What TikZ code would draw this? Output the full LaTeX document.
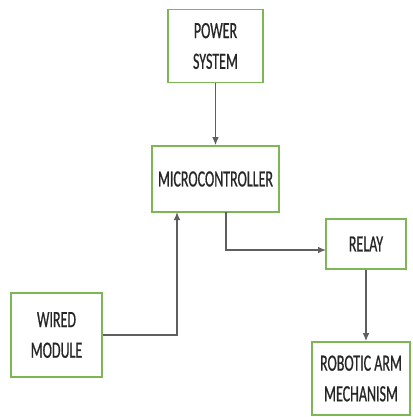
\documentclass[tikz,border=0pt]{standalone}
\usepackage{fontspec}
\setmainfont{Carlito}[FakeStretch=0.6,FakeBold=0.6]
\usetikzlibrary{arrows.meta}
\definecolor{boxgreen}{RGB}{125,182,85}
\definecolor{lineGray}{RGB}{95,95,95}
\tikzset{every picture/.style={line width=0.75pt}}
\tikzset{
  blockbox/.style={draw=boxgreen, line width=1.3pt, fill=white, align=center,
    inner sep=0pt, font=\fontsize{17.5}{23}\selectfont, text=black!85},
  flowarrow/.style={draw=lineGray, line width=1pt, -{Latex[length=6pt,width=5pt]}},
}

\begin{document}
\begin{tikzpicture}[x=0.75pt,y=0.75pt,yscale=-1,xscale=1]
	%set diagram frame as the reference
	\useasboundingbox (0,0) rectangle (412,417);

	% Blocks
	\node [blockbox, minimum width=71.25pt, minimum height=54.75pt] (power) at (215.5,46) {POWER\\SYSTEM};
	\node [blockbox, minimum width=95.25pt, minimum height=49.5pt] (micro) at (215.5,179) {MICROCONTROLLER};
	\node [blockbox, minimum width=68.25pt, minimum height=63pt] (wired) at (56.5,335) {WIRED\\MODULE};
	\node [blockbox, minimum width=60pt, minimum height=37.5pt] (relay) at (366,244) {RELAY};
	\node [blockbox, minimum width=73.5pt, minimum height=54.75pt] (robot) at (361,378.5) {ROBOTIC ARM\\MECHANISM};

	% Connector ends
	\coordinate (mcin) at (177,212);
	\coordinate (mcout) at (226,212);
	\coordinate (rlin) at (326,250);

	% Connectors
	\draw [flowarrow] (power) -- (micro);
	\draw [flowarrow] (wired.east) -| (mcin);
	\draw [flowarrow] (mcout) |- (rlin);
	\draw [flowarrow] (relay.south) -- (relay.south |- robot.north);

\end{tikzpicture}
\end{document}
